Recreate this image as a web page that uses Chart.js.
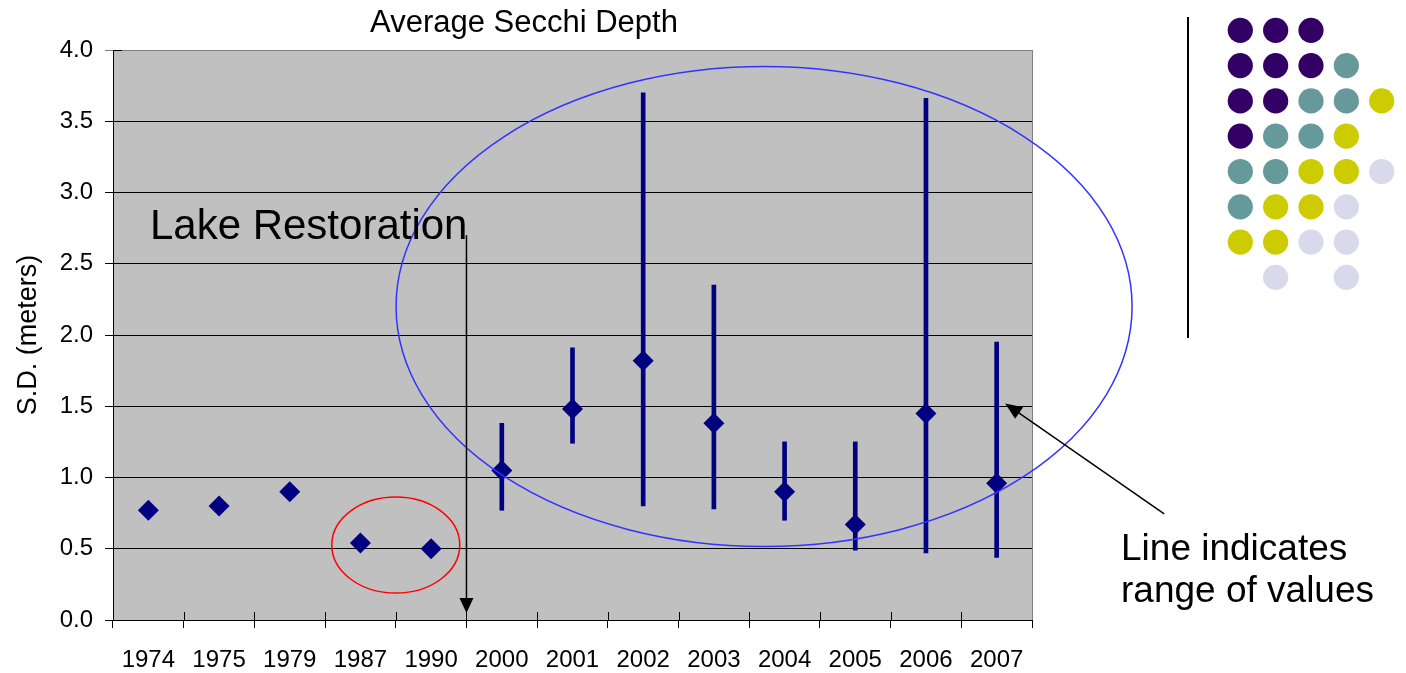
<!DOCTYPE html>
<html lang="en">
<head>
<meta charset="UTF-8">
<title>Average Secchi Depth</title>
<style>
  html, body { margin: 0; padding: 0; background: #fff; }
  #box { width: 1406px; height: 673px; }
</style>
</head>
<body>
<div id="box"><canvas id="grafico"></canvas></div>

<script src="https://cdn.jsdelivr.net/npm/chart.js"></script>
<script>
// data
const years = ['1974','1975','1979','1987','1990','2000','2001','2002','2003','2004','2005','2006','2007'];
const avgDepth = [0.77, 0.80, 0.90, 0.54, 0.50, 1.05, 1.48, 1.82, 1.38, 0.90, 0.67, 1.45, 0.96];
const minDepth = [null, null, null, null, null, 0.77, 1.24, 0.80, 0.78, 0.70, 0.49, 0.47, 0.44];
const maxDepth = [null, null, null, null, null, 1.38, 1.91, 3.70, 2.35, 1.25, 1.25, 3.66, 1.95];
const yTicks = ['0.0','0.5','1.0','1.5','2.0','2.5','3.0','3.5','4.0'];

const chartTitle = 'Average Secchi Depth';
const yTitle = 'S.D. (meters)';
const noteLake = 'Lake Restoration';
const noteRange = ['Line indicates', 'range of values'];

// slide decoration (dot pattern on the right)
const dotRows = ['PPP', 'PPPT', 'PPTTY', 'PTTY', 'TTYYL', 'TYYL', 'YYLL', ' L L'];
const dotColors = { P: '#330066', T: '#669999', Y: '#CCCC00', L: '#D9D9EC' };

const FONT = '"Liberation Sans", Arial, sans-serif';
const navy = '#000080';

const ranges = minDepth.map((v, i) => v === null ? null : [v, maxDepth[i]]);

function arrow(ctx, x1, y1, x2, y2, head, w) {
  const a = Math.atan2(y2 - y1, x2 - x1);
  ctx.beginPath();
  ctx.moveTo(x1, y1);
  ctx.lineTo(x2 - Math.cos(a) * head * 0.8, y2 - Math.sin(a) * head * 0.8);
  ctx.stroke();
  ctx.beginPath();
  ctx.moveTo(x2, y2);
  ctx.lineTo(x2 - head * Math.cos(a) + w * Math.sin(a), y2 - head * Math.sin(a) - w * Math.cos(a));
  ctx.lineTo(x2 - head * Math.cos(a) - w * Math.sin(a), y2 - head * Math.sin(a) + w * Math.cos(a));
  ctx.closePath();
  ctx.fill();
}

const plotBg = {
  id: 'plotBg',
  beforeDraw(chart) {
    const { ctx, chartArea: a } = chart;
    ctx.save();
    ctx.fillStyle = '#C0C0C0';
    ctx.fillRect(a.left, a.top, a.right - a.left, a.bottom - a.top);
    ctx.restore();
  },
  beforeDatasetsDraw(chart) {
    // inner halves of the axis tick marks (they cross the axis in the original)
    const { ctx, chartArea: a } = chart;
    const xs = chart.scales.x;
    ctx.save();
    ctx.strokeStyle = '#000';
    ctx.lineWidth = 1;
    ctx.beginPath();
    for (let i = 0; i <= years.length; i++) {
      const px = Math.round(xs.getPixelForValue(i - 0.5)) + 0.5;
      ctx.moveTo(px, a.bottom - 8);
      ctx.lineTo(px, a.bottom);
    }
    ctx.moveTo(a.left, a.top + 0.5);
    ctx.lineTo(a.left + 9, a.top + 0.5);
    ctx.stroke();
    ctx.restore();
  },
  afterDraw(chart) {
    const { ctx, chartArea: a } = chart;
    const xs = chart.scales.x, ys = chart.scales.y;
    ctx.save();
    // right border
    ctx.strokeStyle = '#808080';
    ctx.lineWidth = 1;
    ctx.beginPath();
    ctx.moveTo(a.right + 0.5, a.top);
    ctx.lineTo(a.right + 0.5, a.bottom);
    ctx.stroke();

    // title
    ctx.fillStyle = '#000';
    ctx.font = '31px ' + FONT;
    ctx.textAlign = 'center';
    ctx.textBaseline = 'alphabetic';
    ctx.fillText(chartTitle, 524, 32);

    // red ellipse around 1987 / 1990
    ctx.strokeStyle = '#FF0000';
    ctx.lineWidth = 1.5;
    ctx.beginPath();
    ctx.ellipse(xs.getPixelForValue(3.5), ys.getPixelForValue(0.526), 64, 48, 0, 0, Math.PI * 2);
    ctx.stroke();

    // blue ellipse around the recent years
    ctx.strokeStyle = '#3333FF';
    ctx.beginPath();
    ctx.ellipse(xs.getPixelForValue(8.71), ys.getPixelForValue(2.2), 368, 240, 0, 0, Math.PI * 2);
    ctx.stroke();

    // lake restoration arrow
    const lx = xs.getPixelForValue(4.5);
    ctx.strokeStyle = '#000';
    ctx.fillStyle = '#000';
    ctx.lineWidth = 1.5;
    arrow(ctx, lx, ys.getPixelForValue(2.70), lx, ys.getPixelForValue(0.05), 15, 7);
    ctx.font = '42px ' + FONT;
    ctx.textAlign = 'right';
    ctx.fillText(noteLake, lx + 1, 239);

    // range note arrow
    arrow(ctx, xs.getPixelForValue(14.37), ys.getPixelForValue(0.744),
          xs.getPixelForValue(12.12), ys.getPixelForValue(1.52), 17, 7);
    ctx.font = '37px ' + FONT;
    ctx.textAlign = 'left';
    ctx.fillText(noteRange[0], 1121, 560);
    ctx.fillText(noteRange[1], 1121, 602);

    // decoration: vertical bar + dots
    ctx.lineWidth = 2;
    ctx.beginPath();
    ctx.moveTo(1188, 17);
    ctx.lineTo(1188, 338);
    ctx.stroke();
    dotRows.forEach((row, r) => {
      row.split('').forEach((c, k) => {
        if (!dotColors[c]) return;
        ctx.fillStyle = dotColors[c];
        ctx.beginPath();
        ctx.arc(1240.3 + k * 35.35, 30.3 + r * 35.3, 12.6, 0, Math.PI * 2);
        ctx.fill();
      });
    });
    ctx.restore();
  }
};

const ctx = document.getElementById('grafico');

const grafico = new Chart(ctx, {
  type: 'bar',
  data: {
    labels: years,
    datasets: [
      {
        type: 'line',
        label: 'Average',
        data: avgDepth,
        showLine: false,
        pointStyle: 'rectRot',
        pointRadius: 10.5,
        pointBackgroundColor: navy,
        pointBorderColor: navy,
        pointBorderWidth: 0,
        order: 0
      },
      {
        label: 'Range',
        data: ranges,
        backgroundColor: navy,
        borderWidth: 0,
        barThickness: 4,
        order: 1
      }
    ]
  },
  options: {
    responsive: true,
    maintainAspectRatio: false,
    devicePixelRatio: 1,
    animation: false,
    layout: { padding: { top: 50, right: 374, left: 0, bottom: 0 } },
    plugins: {
      legend: { display: false },
      tooltip: { enabled: false },
      title: { display: false }
    },
    scales: {
      x: {
        grid: { drawOnChartArea: false, drawTicks: true, tickLength: 8, color: '#000', offset: true },
        border: { color: '#000', width: 1 },
        ticks: { color: '#000', font: { family: FONT, size: 24 }, padding: 18, maxRotation: 0, autoSkip: false },
        afterFit: s => { s.height = 53; }
      },
      y: {
        min: 0,
        max: 4,
        ticks: {
          stepSize: 0.5,
          color: '#000',
          font: { family: FONT, size: 24 },
          padding: 12,
          callback: (v, i) => yTicks[i]
        },
        grid: {
          color: c => c.tick && c.tick.value === 4 ? '#808080' : '#000',
          lineWidth: 1,
          tickLength: 8
        },
        border: { color: '#000', width: 1 },
        title: {
          display: true,
          text: yTitle,
          color: '#000',
          font: { family: FONT, size: 27 },
          padding: { top: 12, bottom: 0 }
        },
        afterFit: s => { s.width = 113; }
      }
    }
  },
  plugins: [plotBg]
});
</script>
</body>
</html>
